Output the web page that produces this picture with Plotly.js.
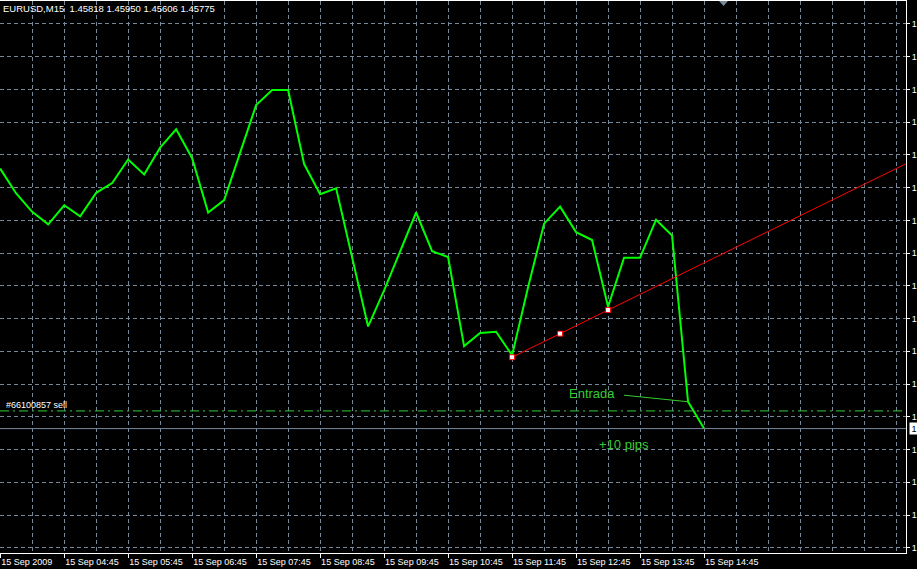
<!DOCTYPE html>
<html>
<head>
<meta charset="utf-8">
<script src="https://cdn.plot.ly/plotly-3.0.1.min.js"></script>
<style>
html,body{margin:0;padding:0;background:#000;overflow:hidden}
#chart{width:917px;height:569px}
</style>
</head>
<body>
<div id="chart"></div>
<script>
const symbolTitle = 'EURUSD,M15\u00a0\u00a01.45818 1.45950 1.45606 1.45775';

const barTimes = [
  '2009-09-15 03:45','2009-09-15 04:00','2009-09-15 04:15','2009-09-15 04:30',
  '2009-09-15 04:45','2009-09-15 05:00','2009-09-15 05:15','2009-09-15 05:30',
  '2009-09-15 05:45','2009-09-15 06:00','2009-09-15 06:15','2009-09-15 06:30',
  '2009-09-15 06:45','2009-09-15 07:00','2009-09-15 07:15','2009-09-15 07:30',
  '2009-09-15 07:45','2009-09-15 08:00','2009-09-15 08:15','2009-09-15 08:30',
  '2009-09-15 08:45','2009-09-15 09:00','2009-09-15 09:15','2009-09-15 09:30',
  '2009-09-15 09:45','2009-09-15 10:00','2009-09-15 10:15','2009-09-15 10:30',
  '2009-09-15 10:45','2009-09-15 11:00','2009-09-15 11:15','2009-09-15 11:30',
  '2009-09-15 11:45','2009-09-15 12:00','2009-09-15 12:15','2009-09-15 12:30',
  '2009-09-15 12:45','2009-09-15 13:00','2009-09-15 13:15','2009-09-15 13:30',
  '2009-09-15 13:45','2009-09-15 14:00','2009-09-15 14:15','2009-09-15 14:30',
  '2009-09-15 14:45'
];

const closes = [
  1.46172, 1.46134, 1.46106, 1.46087, 1.46116, 1.46099, 1.46135, 1.46150,
  1.46186, 1.46163, 1.46204, 1.46232, 1.46188, 1.46105, 1.46124, 1.46195,
  1.46269, 1.46292, 1.46292, 1.46179, 1.46133, 1.46142, 1.46037, 1.45931,
  1.45986, 1.46045, 1.46105, 1.46046, 1.46037, 1.45901, 1.45921, 1.45923,
  1.45887, 1.45991, 1.46088, 1.46114, 1.46075, 1.46063, 1.45961, 1.46036,
  1.46036, 1.46094, 1.46070, 1.45816, 1.45775
];

const tickTimes = [
  '2009-09-15 03:45','2009-09-15 04:45','2009-09-15 05:45','2009-09-15 06:45',
  '2009-09-15 07:45','2009-09-15 08:45','2009-09-15 09:45','2009-09-15 10:45',
  '2009-09-15 11:45','2009-09-15 12:45','2009-09-15 13:45','2009-09-15 14:45'
];
const tickLabels = [
  '15 Sep 2009','15 Sep 04:45','15 Sep 05:45','15 Sep 06:45',
  '15 Sep 07:45','15 Sep 08:45','15 Sep 09:45','15 Sep 10:45',
  '15 Sep 11:45','15 Sep 12:45','15 Sep 13:45','15 Sep 14:45'
];

const trendTimes = ['2009-09-15 11:45','2009-09-15 12:30','2009-09-15 13:15'];
const trendPrices = [1.45884, 1.45920, 1.45956];

const orderLabel = '#66100857 sell';
const orderPrice = 1.45802;
const bidPrice = 1.45775;

const entradaText = 'Entrada';
const entradaTextTime = '2009-09-15 13:00';
const entradaTextPrice = 1.45828;
const entradaLineTime = '2009-09-15 13:30';
const entradaLinePrice = 1.45826;

const pipsText = '+10 pips';
const pipsTime = '2009-09-15 13:30';
const pipsPrice = 1.45751;

// ---- view window ----
const xRange = ['2009-09-15 03:44:50', '2009-09-15 17:54:22'];
const yRange = [1.45585, 1.46428];

function toMs(s){ return new Date(s.replace(' ','T') + 'Z').getTime(); }
function toStr(ms){ return new Date(ms).toISOString().replace('T',' ').replace('Z',''); }

// extend trend ray to the right edge
const t0 = toMs(trendTimes[0]), t1 = toMs(trendTimes[2]);
const slope = (trendPrices[2] - trendPrices[0]) / (t1 - t0);
const tEnd = toMs(xRange[1]) + 60000;
const trendRayX = [trendTimes[0], toStr(tEnd)];
const trendRayY = [trendPrices[0], trendPrices[0] + slope * (tEnd - t0)];

const GRID = '#778899';
const FONT = 'Liberation Sans, Arial, sans-serif';

const traces = [
  {
    x: barTimes, y: closes, type: 'scatter', mode: 'lines',
    line: {color: '#00FF00', width: 2}, hoverinfo: 'skip'
  },
  {
    x: trendRayX, y: trendRayY, type: 'scatter', mode: 'lines',
    line: {color: '#FF0000', width: 1}, hoverinfo: 'skip'
  },
  {
    x: trendTimes, y: trendPrices, type: 'scatter', mode: 'markers',
    marker: {symbol: 'square', size: 5, color: '#FFFFFF', line: {color: '#FF0000', width: 1}},
    hoverinfo: 'skip'
  },
  {
    x: [entradaLineTime, barTimes[43]], y: [entradaLinePrice, closes[43]],
    type: 'scatter', mode: 'lines',
    line: {color: '#32CD32', width: 1}, hoverinfo: 'skip'
  }
];

const layout = {
  width: 917, height: 569,
  paper_bgcolor: '#000000', plot_bgcolor: '#000000',
  margin: {l: 0, r: 11, t: 1, b: 16, pad: 0},
  showlegend: false,
  font: {family: FONT, size: 9, color: '#FFFFFF'},
  title: {
    text: symbolTitle, x: 3/917, xanchor: 'left', xref: 'container',
    y: 1 - 9/569, yanchor: 'middle', yref: 'container',
    font: {family: FONT, size: 9.5, color: '#FFFFFF'}
  },
  xaxis: {
    type: 'date', range: xRange,
    tickmode: 'array', tickvals: tickTimes, ticktext: tickLabels,
    ticks: 'outside', ticklen: 4, tickcolor: '#FFFFFF', tickwidth: 1,
    ticklabelposition: 'outside right',
    tickfont: {family: FONT, size: 9, color: '#FFFFFF'},
    showgrid: true, gridcolor: GRID, gridwidth: 1, griddash: '4px,3px',
    minor: {dtick: 1800000, tick0: '2009-09-15 03:45', showgrid: true,
            gridcolor: GRID, gridwidth: 1, griddash: '4px,3px', ticks: ''},
    showline: true, linecolor: '#FFFFFF', linewidth: 1, mirror: true,
    zeroline: false, automargin: false, fixedrange: true
  },
  yaxis: {
    side: 'right', range: yRange,
    tickmode: 'linear', tick0: 1.45793, dtick: 0.0005, tickformat: '.0f',
    ticks: 'outside', ticklen: 3, tickcolor: '#FFFFFF', tickwidth: 1,
    tickfont: {family: FONT, size: 9, color: '#FFFFFF'},
    showgrid: true, gridcolor: GRID, gridwidth: 1, griddash: '4px,3px',
    showline: true, linecolor: '#FFFFFF', linewidth: 1,
    zeroline: false, automargin: false, fixedrange: true
  },
  shapes: [
    {type: 'line', xref: 'paper', x0: 0, x1: 1, yref: 'y', y0: orderPrice, y1: orderPrice,
     line: {color: '#32CD32', width: 1, dash: '9px,4px,2px,4px'}},
    {type: 'line', xref: 'paper', x0: 0, x1: 1, yref: 'y', y0: bidPrice, y1: bidPrice,
     line: {color: GRID, width: 1}},
    {type: 'path', xref: 'paper', yref: 'paper',
     path: 'M 0.7936 1 L 0.8035 1 L 0.7986 0.991 Z',
     fillcolor: GRID, line: {color: GRID, width: 0}}
  ],
  annotations: [
    {xref: 'paper', x: 0.005, xanchor: 'left', yref: 'y', y: orderPrice, yanchor: 'bottom',
     text: orderLabel, showarrow: false, font: {family: FONT, size: 9, color: '#FFFFFF'}, borderpad: 0},
    {xref: 'paper', x: 1, xanchor: 'left', xshift: 3, yref: 'y', y: bidPrice, yanchor: 'middle',
     text: '1', showarrow: false, bgcolor: '#FFFFFF', width: 8, height: 11, align: 'center',
     font: {family: FONT, size: 9, color: '#000000'}, borderpad: 0},
    {x: entradaTextTime, y: entradaTextPrice, xanchor: 'center', yanchor: 'middle',
     text: entradaText, showarrow: false, font: {family: FONT, size: 13, color: '#32CD32'}},
    {x: pipsTime, y: pipsPrice, xanchor: 'center', yanchor: 'middle',
     text: pipsText, showarrow: false, font: {family: FONT, size: 13, color: '#32CD32'}}
  ]
};

Plotly.newPlot('chart', traces, layout, {displayModeBar: false, staticPlot: true});
</script>
</body>
</html>
